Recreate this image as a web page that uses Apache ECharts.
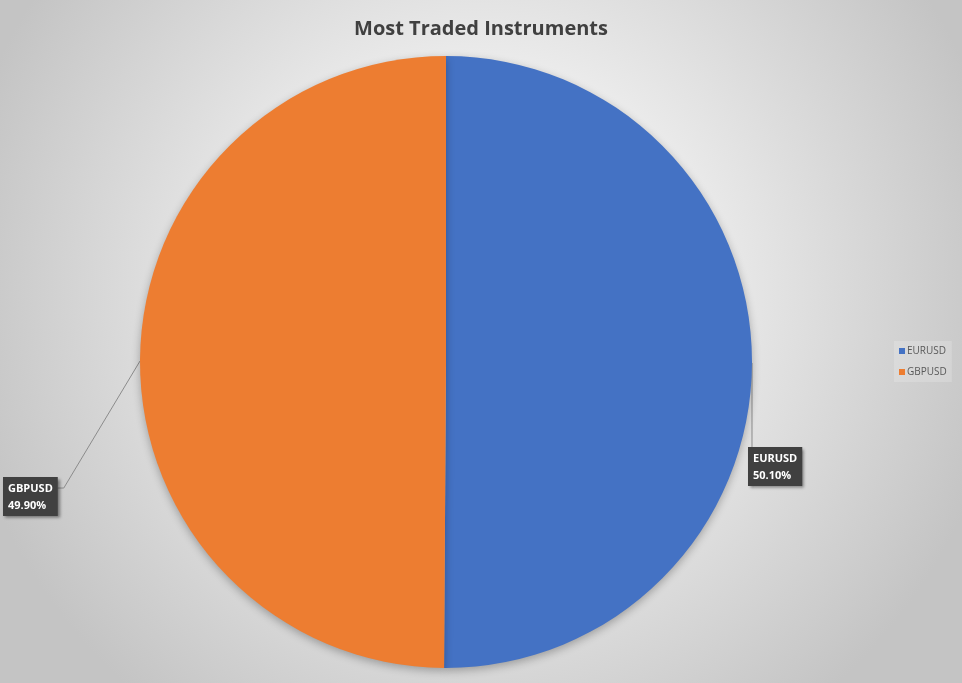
<!DOCTYPE html>
<html>
<head>
<meta charset="utf-8">
<script src="https://cdn.jsdelivr.net/npm/echarts@6/dist/echarts.min.js"></script>
<style>
  html, body { margin: 0; padding: 0; }
  #chart { width: 962px; height: 683px; }
</style>
</head>
<body>
<div id="chart"></div>
<script>
// Share of trades per instrument (percent)
const instruments = ['EURUSD', 'GBPUSD'];
const shares = [50.1, 49.9];
const sliceColors = ['#4472C4', '#ED7D31'];

const chart = echarts.init(document.getElementById('chart'));

const pieData = instruments.map((name, i) => ({
  name: name,
  value: shares[i],
  itemStyle: { color: sliceColors[i] }
}));

// Place each data label beside the pie, with a leader line from the slice edge
function placeLabel(params) {
  const start = params.labelLinePoints ? params.labelLinePoints[0] : [0, 0];
  const r = params.labelRect;
  if (params.dataIndex === 0) {
    const x = start[0] - 4;
    const y = start[1] + 84;
    return {
      x: x, y: y, align: 'left', verticalAlign: 'top',
      labelLinePoints: [start, [start[0], y], [start[0], y]]
    };
  } else {
    const x = 3;
    const y = start[1] + 116;
    const ly = y + 11;
    return {
      x: x, y: y, align: 'left', verticalAlign: 'top',
      labelLinePoints: [start, [x + r.width + 6, ly], [x + r.width, ly]]
    };
  }
}

chart.setOption({
  backgroundColor: {
    type: 'radial', x: 0.5, y: 0.42, r: 0.78,
    colorStops: [
      { offset: 0, color: '#ffffff' },
      { offset: 0.35, color: '#f0f0f0' },
      { offset: 1, color: '#c4c4c4' }
    ]
  },
  title: {
    text: 'Most Traded Instruments',
    left: 'center',
    top: 14,
    textStyle: {
      fontFamily: 'Open Sans',
      fontSize: 20,
      fontWeight: 'bold',
      color: '#404040'
    }
  },
  legend: {
    orient: 'vertical',
    left: 894,
    top: 341,
    itemWidth: 6,
    itemHeight: 6,
    itemGap: 11,
    padding: [5, 5, 5, 5],
    backgroundColor: 'rgba(255,255,255,0.18)',
    icon: 'rect',
    data: instruments,
    textStyle: {
      fontFamily: 'Open Sans',
      fontSize: 10,
      color: '#595959',
      padding: [0, 0, 0, -3]
    }
  },
  series: [{
    type: 'pie',
    center: [446, 362],
    radius: [0, 306],
    startAngle: 90,
    clockwise: true,
    data: pieData,
    avoidLabelOverlap: false,
    itemStyle: {
      shadowColor: 'rgba(0,0,0,0.28)',
      shadowBlur: 8,
      shadowOffsetY: 3
    },
    emphasis: { disabled: true },
    label: {
      show: true,
      position: 'outside',
      formatter: p => p.name + '\n' + p.value.toFixed(2) + '%',
      fontFamily: 'Open Sans',
      fontSize: 11,
      fontWeight: 'bold',
      lineHeight: 17,
      color: '#ffffff',
      backgroundColor: '#404040',
      padding: [3, 5, 2, 5],
      shadowColor: 'rgba(0,0,0,0.45)',
      shadowBlur: 3,
      shadowOffsetX: 2,
      shadowOffsetY: 2
    },
    labelLine: {
      show: true,
      length: 20,
      length2: 10,
      lineStyle: { color: '#8c8c8c', width: 1 }
    },
    labelLayout: placeLabel
  }]
});
</script>
</body>
</html>
